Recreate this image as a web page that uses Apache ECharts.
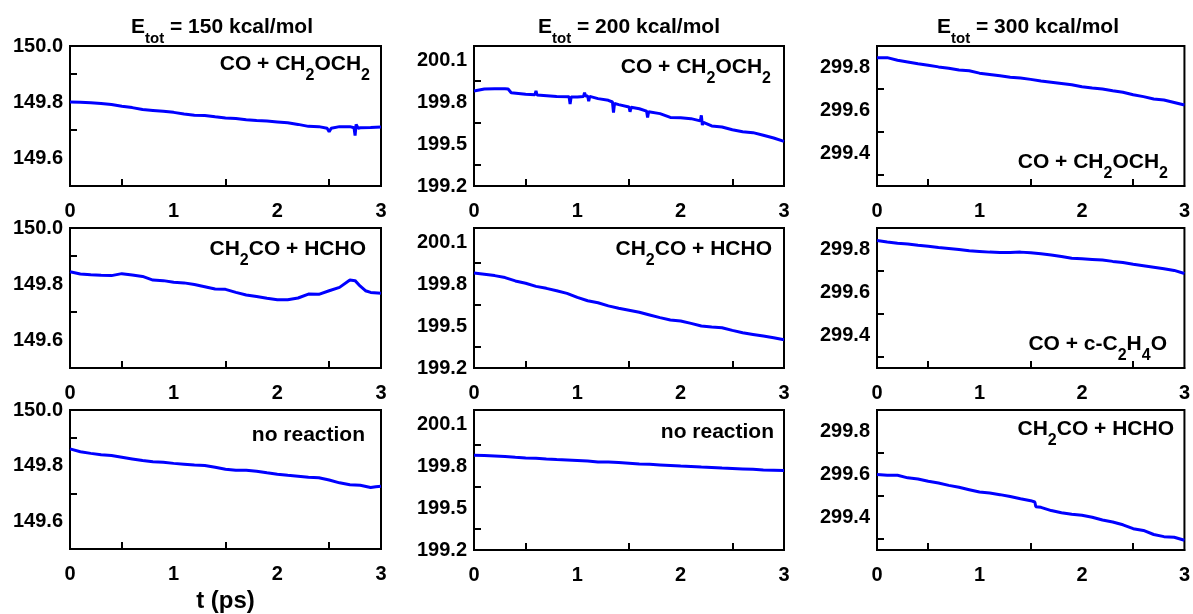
<!DOCTYPE html>
<html>
<head>
<meta charset="utf-8">
<script src="https://cdn.jsdelivr.net/npm/echarts@6/dist/echarts.min.js"></script>
<style>
  html, body { margin: 0; padding: 0; background: #fff; }
  #chart { width: 1193px; height: 614px; }
</style>
</head>
<body>
<div id="chart"></div>
<script>
// total energy (kcal/mol) vs time (ps), one array per panel as [t, E]
const e150Co = [
  [0, 149.800], [0.1, 149.799], [0.2, 149.797], [0.3, 149.795], [0.4, 149.791], [0.5, 149.785],
  [0.6, 149.780], [0.7, 149.773], [0.8, 149.770], [0.9, 149.767], [1.0, 149.763], [1.1, 149.757],
  [1.2, 149.753], [1.3, 149.752], [1.4, 149.747], [1.5, 149.743], [1.6, 149.741], [1.7, 149.737],
  [1.8, 149.734], [1.9, 149.732], [2.0, 149.729], [2.1, 149.726], [2.2, 149.720], [2.3, 149.713],
  [2.4, 149.712], [2.48, 149.706], [2.5, 149.694], [2.52, 149.706], [2.6, 149.712], [2.7, 149.712],
  [2.74, 149.708], [2.75, 149.680], [2.76, 149.720], [2.78, 149.706], [2.8, 149.708], [2.9, 149.709],
  [3.0, 149.711]
];
const e150Ch2co = [
  [0, 149.844], [0.1, 149.836], [0.2, 149.833], [0.3, 149.831], [0.4, 149.830], [0.5, 149.837],
  [0.6, 149.832], [0.7, 149.827], [0.8, 149.814], [0.9, 149.812], [1.0, 149.806], [1.1, 149.804],
  [1.2, 149.798], [1.3, 149.790], [1.4, 149.782], [1.5, 149.781], [1.6, 149.770], [1.7, 149.761],
  [1.8, 149.755], [1.9, 149.749], [2.0, 149.744], [2.1, 149.744], [2.2, 149.750], [2.3, 149.764],
  [2.4, 149.763], [2.5, 149.776], [2.6, 149.788], [2.7, 149.814], [2.75, 149.812], [2.8, 149.792],
  [2.85, 149.776], [2.9, 149.770], [3.0, 149.767]
];
const e150None = [
  [0, 149.860], [0.1, 149.850], [0.2, 149.844], [0.3, 149.839], [0.4, 149.836], [0.5, 149.830],
  [0.6, 149.824], [0.7, 149.818], [0.8, 149.814], [0.9, 149.812], [1.0, 149.808], [1.1, 149.805],
  [1.2, 149.802], [1.3, 149.800], [1.4, 149.794], [1.5, 149.787], [1.6, 149.783], [1.7, 149.783],
  [1.8, 149.780], [1.9, 149.774], [2.0, 149.769], [2.1, 149.765], [2.2, 149.762], [2.3, 149.758],
  [2.4, 149.756], [2.5, 149.748], [2.6, 149.738], [2.7, 149.731], [2.8, 149.729], [2.9, 149.721],
  [2.95, 149.724], [3.0, 149.726]
];
const e200Co = [
  [0, 199.879], [0.1, 199.893], [0.2, 199.895], [0.3, 199.895], [0.33, 199.893], [0.36, 199.866],
  [0.5, 199.855], [0.59, 199.852], [0.6, 199.880], [0.61, 199.850], [0.8, 199.840], [0.92, 199.838],
  [0.93, 199.785], [0.94, 199.836], [1.0, 199.836], [1.06, 199.840], [1.07, 199.866], [1.08, 199.843],
  [1.1, 199.843], [1.11, 199.805], [1.12, 199.840], [1.2, 199.824], [1.3, 199.812], [1.34, 199.800],
  [1.35, 199.725], [1.36, 199.790], [1.4, 199.781], [1.5, 199.764], [1.51, 199.730], [1.52, 199.762],
  [1.6, 199.752], [1.67, 199.735], [1.68, 199.690], [1.69, 199.730], [1.7, 199.729], [1.8, 199.717],
  [1.9, 199.690], [2.0, 199.688], [2.1, 199.681], [2.19, 199.665], [2.2, 199.705], [2.21, 199.635],
  [2.22, 199.655], [2.3, 199.629], [2.4, 199.621], [2.5, 199.602], [2.6, 199.588], [2.7, 199.581],
  [2.8, 199.562], [2.9, 199.543], [3.0, 199.519]
];
const e200Ch2co = [
  [0, 199.879], [0.1, 199.870], [0.2, 199.860], [0.3, 199.846], [0.4, 199.822], [0.5, 199.805],
  [0.6, 199.783], [0.7, 199.769], [0.8, 199.752], [0.9, 199.733], [1.0, 199.704], [1.1, 199.680],
  [1.2, 199.666], [1.3, 199.644], [1.4, 199.627], [1.5, 199.613], [1.6, 199.598], [1.7, 199.579],
  [1.8, 199.560], [1.9, 199.543], [2.0, 199.536], [2.1, 199.519], [2.2, 199.500], [2.3, 199.493],
  [2.4, 199.488], [2.5, 199.469], [2.6, 199.452], [2.7, 199.440], [2.8, 199.428], [2.9, 199.416],
  [3.0, 199.402]
];
const e200None = [
  [0, 199.877], [0.1, 199.875], [0.2, 199.872], [0.3, 199.868], [0.4, 199.862], [0.5, 199.858],
  [0.6, 199.855], [0.7, 199.850], [0.8, 199.846], [0.9, 199.843], [1.0, 199.840], [1.1, 199.836],
  [1.2, 199.829], [1.3, 199.828], [1.4, 199.825], [1.5, 199.820], [1.6, 199.815], [1.7, 199.812],
  [1.8, 199.808], [1.9, 199.804], [2.0, 199.800], [2.1, 199.797], [2.2, 199.793], [2.3, 199.790],
  [2.4, 199.785], [2.5, 199.782], [2.6, 199.779], [2.7, 199.776], [2.8, 199.772], [2.9, 199.770],
  [3.0, 199.767]
];
const e300Co = [
  [0, 299.846], [0.1, 299.846], [0.2, 299.834], [0.3, 299.826], [0.4, 299.818], [0.5, 299.811],
  [0.6, 299.803], [0.7, 299.797], [0.8, 299.789], [0.9, 299.785], [1.0, 299.774], [1.1, 299.768],
  [1.2, 299.762], [1.3, 299.755], [1.4, 299.751], [1.5, 299.745], [1.6, 299.738], [1.7, 299.732],
  [1.8, 299.726], [1.9, 299.720], [2.0, 299.711], [2.1, 299.705], [2.2, 299.700], [2.3, 299.692],
  [2.4, 299.685], [2.5, 299.674], [2.6, 299.665], [2.7, 299.654], [2.8, 299.649], [2.9, 299.638],
  [3.0, 299.626]
];
const e300Cyc = [
  [0, 299.842], [0.1, 299.835], [0.2, 299.829], [0.3, 299.826], [0.4, 299.820], [0.5, 299.815],
  [0.6, 299.809], [0.7, 299.805], [0.8, 299.800], [0.9, 299.794], [1.0, 299.791], [1.1, 299.788],
  [1.2, 299.786], [1.3, 299.786], [1.4, 299.788], [1.5, 299.785], [1.6, 299.780], [1.7, 299.775],
  [1.8, 299.768], [1.9, 299.760], [2.0, 299.757], [2.1, 299.754], [2.2, 299.751], [2.3, 299.745],
  [2.4, 299.740], [2.5, 299.732], [2.6, 299.725], [2.7, 299.718], [2.8, 299.711], [2.9, 299.703],
  [3.0, 299.689]
];
const e300Ch2co = [
  [0, 299.600], [0.1, 299.597], [0.2, 299.597], [0.3, 299.585], [0.4, 299.580], [0.5, 299.569],
  [0.6, 299.561], [0.7, 299.550], [0.8, 299.541], [0.9, 299.530], [1.0, 299.519], [1.1, 299.515],
  [1.2, 299.507], [1.3, 299.498], [1.4, 299.488], [1.5, 299.479], [1.54, 299.473], [1.55, 299.451],
  [1.6, 299.448], [1.7, 299.433], [1.8, 299.423], [1.9, 299.416], [2.0, 299.411], [2.1, 299.402],
  [2.2, 299.389], [2.3, 299.380], [2.4, 299.367], [2.5, 299.349], [2.6, 299.341], [2.7, 299.322],
  [2.8, 299.312], [2.9, 299.309], [3.0, 299.295]
];

// axis ranges and tick values, per column (E_tot = 150, 200, 300)
const yRanges = [[149.5, 150.0], [199.2, 200.2], [299.25, 299.9]];
const yLabelValues = [[149.6, 149.8, 150.0], [199.2, 199.5, 199.8, 200.1], [299.4, 299.6, 299.8]];
const yTickValues = [[149.7, 149.9], [199.35, 199.65, 199.95], [299.3, 299.5, 299.7]];
const xLabelValues = [0, 1, 2, 3];
const xTickValues = [0.5, 1.5, 2.5];

const columnTitles = ['150', '200', '300'];
// panels in row-major order
const panels = [
  { data: e150Co, label: '{m|CO + CH}{s|2}{m|OCH}{s|2}' },
  { data: e200Co, label: '{m|CO + CH}{s|2}{m|OCH}{s|2}' },
  { data: e300Co, label: '{m|CO + CH}{s|2}{m|OCH}{s|2}' },
  { data: e150Ch2co, label: '{m|CH}{s|2}{m|CO + HCHO}' },
  { data: e200Ch2co, label: '{m|CH}{s|2}{m|CO + HCHO}' },
  { data: e300Cyc, label: '{m|CO + c-C}{s|2}{m|H}{s|4}{m|O}' },
  { data: e150None, label: '{m|no reaction}' },
  { data: e200None, label: '{m|no reaction}' },
  { data: e300Ch2co, label: '{m|CH}{s|2}{m|CO + HCHO}' },
];

const FONT = '"Liberation Sans", Arial, Helvetica, sans-serif';
const colLeft = [70, 474, 877];
const colWidth = [311, 310, 310];
const titleCenter = [222, 629, 1028];
const rowTop = [46, 228, 410];
const plotHeight = 140;
// annotation anchors: right edge, top of text box
const labelPos = [
  [370, 54], [771, 57], [1168, 152],
  [366, 239], [772, 239], [1167, 334],
  [365, 425], [774, 422], [1174, 419],
];

const grids = [];
const xAxes = [];
const yAxes = [];
const series = [];
const graphics = [];

const richLabel = {
  m: { fontSize: 21, fontWeight: 'bold', fontFamily: FONT, fill: '#000', lineHeight: 30, verticalAlign: 'top' },
  s: { fontSize: 16, fontWeight: 'bold', fontFamily: FONT, fill: '#000', lineHeight: 16, verticalAlign: 'bottom' },
};

panels.forEach((panel, i) => {
  const row = Math.floor(i / 3);
  const col = i % 3;
  grids.push({
    left: colLeft[col], top: rowTop[row], width: colWidth[col], height: plotHeight,
    show: true, borderColor: '#000', borderWidth: 2, containLabel: false,
  });
  xAxes.push({
    gridIndex: i, type: 'value', min: 0, max: 3, interval: 1,
    axisLine: { show: true, lineStyle: { color: '#000', width: 2 } },
    axisTick: { show: true, inside: true, length: 7, customValues: xTickValues, lineStyle: { color: '#000', width: 2 } },
    axisLabel: { customValues: xLabelValues, margin: 15, color: '#000', fontSize: 20, fontWeight: 'bold', fontFamily: FONT },
    splitLine: { show: false },
    name: i === 6 ? 't (ps)' : '',
    nameLocation: 'middle', nameGap: 40,
    nameTextStyle: { color: '#000', fontSize: 24, fontWeight: 'bold', fontFamily: FONT },
  });
  yAxes.push({
    gridIndex: i, type: 'value', min: yRanges[col][0], max: yRanges[col][1],
    axisLine: { show: true, lineStyle: { color: '#000', width: 2 } },
    axisTick: { show: true, inside: true, length: 7, customValues: yTickValues[col], lineStyle: { color: '#000', width: 2 } },
    axisLabel: {
      customValues: yLabelValues[col], margin: 7, color: '#000', fontSize: 20, fontWeight: 'bold', fontFamily: FONT,
      formatter: (v) => v.toFixed(1),
    },
    splitLine: { show: false },
  });
  series.push({
    type: 'line', xAxisIndex: i, yAxisIndex: i, data: panel.data,
    showSymbol: false, symbol: 'none', smooth: false,
    lineStyle: { color: '#0000ff', width: 3 },
    itemStyle: { color: '#0000ff' },
  });
  graphics.push({
    type: 'text', x: labelPos[i][0], y: labelPos[i][1], z: 10,
    style: { text: panel.label, rich: richLabel, align: 'right', verticalAlign: 'top', fill: '#000' },
  });
});

columnTitles.forEach((energy, col) => {
  graphics.push({
    type: 'text', x: titleCenter[col], y: 17, z: 10,
    style: {
      text: `{m|E}{s|tot}{m| = ${energy} kcal/mol}`,
      align: 'center', verticalAlign: 'top', fill: '#000',
      rich: {
        m: { fontSize: 21, fontWeight: 'bold', fontFamily: FONT, fill: '#000', lineHeight: 29, verticalAlign: 'top' },
        s: { fontSize: 15, fontWeight: 'bold', fontFamily: FONT, fill: '#000', lineHeight: 15, verticalAlign: 'bottom' },
      },
    },
  });
});

const chart = echarts.init(document.getElementById('chart'));
chart.setOption({
  animation: false,
  backgroundColor: '#fff',
  grid: grids,
  xAxis: xAxes,
  yAxis: yAxes,
  series,
  graphic: graphics,
});
</script>
</body>
</html>
